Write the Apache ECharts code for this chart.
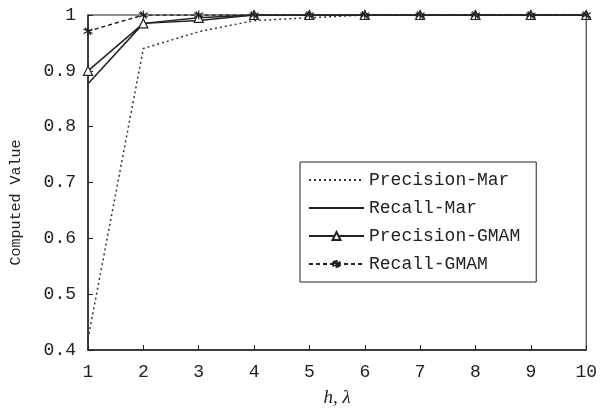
<!DOCTYPE html>
<html><head><meta charset="utf-8">
<script src="https://cdn.jsdelivr.net/npm/echarts@6/dist/echarts.min.js"></script>
<style>html,body{margin:0;padding:0;background:#fff}#c{width:600px;height:414px}</style>
</head><body><div id="c"></div>
<script>
const categories = ['1','2','3','4','5','6','7','8','9','10'];
const precisionMar = [0.42, 0.94, 0.97, 0.99, 0.995, 1, 1, 1, 1, 1];
const recallMar = [0.877, 0.985, 0.99, 1, 1, 1, 1, 1, 1, 1];
const precisionGMAM = [0.90, 0.985, 0.995, 1, 1, 1, 1, 1, 1, 1];
const recallGMAM = [0.971, 1, 1, 1, 1, 1, 1, 1, 1, 1];
const yTicks = ['0.4','0.5','0.6','0.7','0.8','0.9','1'];

const mono = 'Liberation Mono';
const asterisk = 'path://M0,-5L0,5M-4.5,-2.5L4.5,2.5M-4.5,2.5L4.5,-2.5M-3,-4L3,4';
const chart = echarts.init(document.getElementById('c'));
chart.setOption({
  animation: false,
  backgroundColor: '#fff',
  grid: {left: 88, right: 10, top: 15, bottom: 64, show: true, borderColor: '#222', borderWidth: 1},
  legend: {
    orient: 'vertical', left: 300, top: 162, width: 235,
    padding: [9, 16, 9, 8], itemGap: 10, itemWidth: 55, itemHeight: 10,
    borderColor: '#222', borderWidth: 1, backgroundColor: '#fff',
    textStyle: {fontFamily: mono, fontSize: 18, color: '#222'},
    data: [
      {name: 'Precision-Mar', itemStyle: {opacity: 0}},
      {name: 'Recall-Mar', itemStyle: {opacity: 0}},
      'Precision-GMAM', 'Recall-GMAM'
    ]
  },
  xAxis: {
    type: 'category', data: categories, boundaryGap: false,
    name: 'h, λ', nameLocation: 'middle', nameGap: 38,
    nameTextStyle: {fontFamily: 'Liberation Serif', fontStyle: 'italic', fontSize: 19, color: '#222'},
    axisLine: {lineStyle: {color: '#222', width: 1.5}},
    axisTick: {inside: true, length: 5, lineStyle: {color: '#222'}, alignWithLabel: true},
    axisLabel: {fontFamily: mono, fontSize: 18, color: '#222', margin: 13},
    splitLine: {show: false}
  },
  yAxis: {
    type: 'value', min: 0.4, max: 1, interval: 0.1,
    name: 'Computed Value', nameLocation: 'middle', nameGap: 64,
    nameTextStyle: {fontFamily: mono, fontSize: 15, color: '#222', padding: [0, 40, 0, 0]},
    axisLine: {show: true, lineStyle: {color: '#222', width: 1.5}},
    axisTick: {show: true, inside: true, length: 5, lineStyle: {color: '#222'}},
    axisLabel: {fontFamily: mono, fontSize: 18, color: '#222', margin: 12,
      formatter: v => yTicks[Math.round((v - 0.4) * 10)]},
    splitLine: {show: false}
  },
  series: [
    {name: 'Precision-Mar', type: 'line', data: precisionMar, showSymbol: false, symbol: 'none',
     lineStyle: {color: '#333', width: 1.5, type: [2, 3]}, itemStyle: {color: '#333'}},
    {name: 'Recall-Mar', type: 'line', data: recallMar, symbol: 'none',
     lineStyle: {color: '#222', width: 1.5}, itemStyle: {color: '#222'}},
    {name: 'Precision-GMAM', type: 'line', data: precisionGMAM, symbol: 'triangle', symbolSize: 9,
     lineStyle: {color: '#222', width: 1.5}, itemStyle: {color: '#fff', borderColor: '#222', borderWidth: 1.2}},
    {name: 'Recall-GMAM', type: 'line', data: recallGMAM, symbol: asterisk, symbolSize: 9,
     lineStyle: {color: '#222', width: 1.5, type: [4, 3]}, itemStyle: {color: '#222', borderColor: '#222', borderWidth: 1.2}}
  ]
});
</script></body></html>
